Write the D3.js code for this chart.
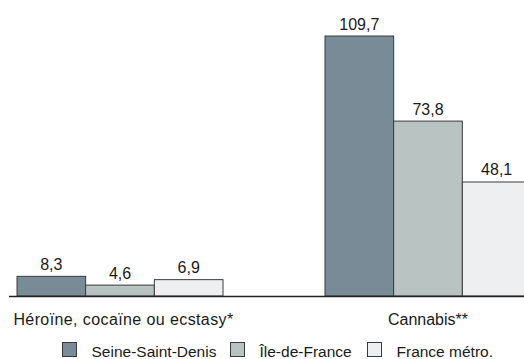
<!DOCTYPE html>
<html lang="fr">
<head>
  <meta charset="UTF-8">
  <title>Interpellations pour usage de stupéfiants</title>
  <script src="https://d3js.org/d3.v7.min.js"></script>
  <style>
    body {
      margin: 0;
      padding: 0;
      background: #ffffff;
      font-family: Arial, "Liberation Sans", sans-serif;
    }
    svg text {
      font-family: Arial, "Liberation Sans", sans-serif;
      font-size: 16px;
      fill: #1a1a1a;
    }
    svg .legend text {
      font-size: 15.5px;
    }
  </style>
</head>
<body>
  <svg id="chart"></svg>

  <script>
    // Data
    const categories = ["Héroïne, cocaïne ou ecstasy*", "Cannabis**"];
    const seriesNames = ["Seine-Saint-Denis", "Île-de-France", "France métro."];
    const seineSaintDenis = [8.3, 109.7];
    const ileDeFrance = [4.6, 73.8];
    const franceMetro = [6.9, 48.1];
    const seriesValues = [seineSaintDenis, ileDeFrance, franceMetro];
    const colors = ["#7a8b98", "#b8c3c2", "#eeeff1"];

    const width = 524;
    const height = 359;
    const baseY = 296;

    const fmt = v => d3.format(".1f")(v).replace(".", ",");

    const svg = d3.select("#chart")
      .attr("width", width)
      .attr("height", height);

    // Scales
    const x0 = d3.scaleBand()
      .domain(categories)
      .range([17, 531])
      .paddingInner(102 / 308)
      .paddingOuter(0);

    const x1 = d3.scaleBand()
      .domain(seriesNames)
      .range([0, x0.bandwidth()])
      .padding(0);

    const y = d3.scaleLinear()
      .domain([0, 109.7])
      .range([baseY, 36]);

    // one row per bar
    const rows = [];
    categories.forEach((c, i) => {
      seriesNames.forEach((s, j) => {
        rows.push({ category: c, series: s, value: seriesValues[j][i], color: colors[j] });
      });
    });

    const groups = svg.append("g");

    groups.selectAll("rect.bar")
      .data(rows)
      .enter()
      .append("rect")
      .attr("class", "bar")
      .attr("x", d => x0(d.category) + x1(d.series))
      .attr("y", d => y(d.value))
      .attr("width", x1.bandwidth())
      .attr("height", d => baseY - y(d.value))
      .attr("fill", d => d.color)
      .attr("stroke", "#3a3a3a")
      .attr("stroke-width", 1);

    // Value labels
    groups.selectAll("text.val")
      .data(rows)
      .enter()
      .append("text")
      .attr("class", "val")
      .attr("x", d => x0(d.category) + x1(d.series) + x1.bandwidth() / 2)
      .attr("y", d => y(d.value) - 6.5)
      .attr("text-anchor", "middle")
      .text(d => fmt(d.value));

    // Baseline
    svg.append("line")
      .attr("x1", 9)
      .attr("x2", width)
      .attr("y1", baseY + 0.5)
      .attr("y2", baseY + 0.5)
      .attr("stroke", "#222")
      .attr("stroke-width", 1.5);

    // Category labels
    svg.selectAll("text.cat")
      .data(categories)
      .enter()
      .append("text")
      .attr("class", "cat")
      .attr("x", d => x0(d) + x0.bandwidth() / 2 + (d === categories[0] ? 3.5 : 0))
      .attr("y", 325)
      .attr("text-anchor", "middle")
      .style("letter-spacing", d => d === categories[0] ? "0.4px" : null)
      .text(d => d);

    // Legend
    const legendX = [62, 230, 367];
    const legend = svg.append("g").attr("class", "legend");
    seriesNames.forEach((s, j) => {
      const g = legend.append("g").attr("transform", `translate(${legendX[j]},342)`);
      g.append("rect")
        .attr("x", 0.5)
        .attr("y", 0.5)
        .attr("width", 14)
        .attr("height", 14)
        .attr("fill", colors[j])
        .attr("stroke", "#3a3a3a")
        .attr("stroke-width", 1);
      g.append("text")
        .attr("x", 29.5)
        .attr("y", 14.5)
        .text(s);
    });
  </script>
</body>
</html>
